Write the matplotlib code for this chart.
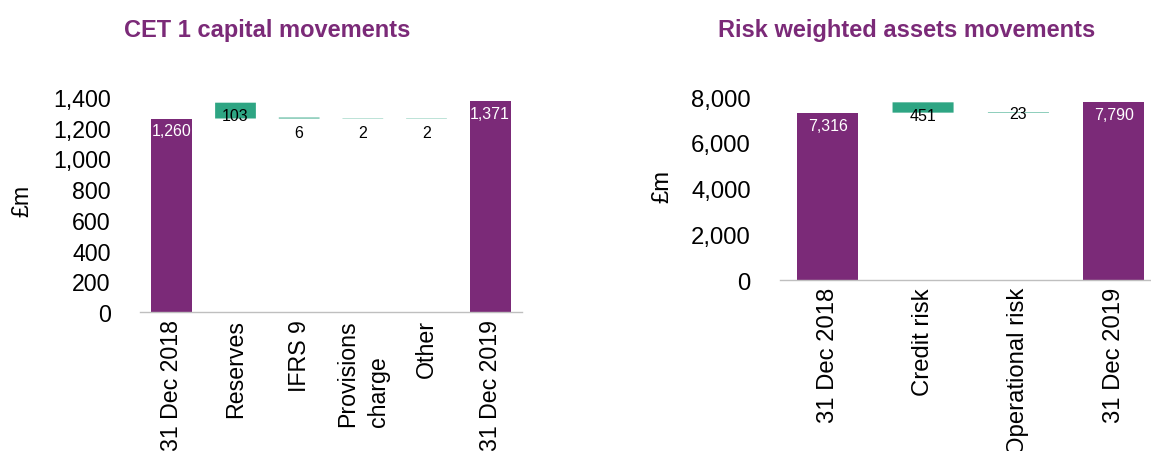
import matplotlib
matplotlib.use("Agg")
import matplotlib.pyplot as plt

# ---- data ----
cet_categories = ["31 Dec 2018", "Reserves", "IFRS 9", "Provisions\ncharge", "Other", "31 Dec 2019"]
cet_values = [1260, 103, 6, 2, 2, 1371]
cet_is_total = [True, False, False, False, False, True]
cet_yticks = [0, 200, 400, 600, 800, 1000, 1200, 1400]

rwa_categories = ["31 Dec 2018", "Credit risk", "Operational risk", "31 Dec 2019"]
rwa_values = [7316, 451, 23, 7790]
rwa_is_total = [True, False, False, True]
rwa_yticks = [0, 2000, 4000, 6000, 8000]

PURPLE = "#7b2a78"
TEAL = "#2ea583"
TITLE = "#7b2a78"
FONT = "Liberation Sans"

plt.rcParams["font.family"] = [FONT, "DejaVu Sans"]

W, H = 1151, 452
fig = plt.figure(figsize=(W / 100, H / 100), dpi=100)


def waterfall(ax, cats, vals, totals, yticks, ymax, xmax, label_offsets, cat_pad, fs):
    x = list(range(len(cats)))
    opening = vals[0]
    for i, (v, t) in enumerate(zip(vals, totals)):
        if t:
            ax.bar(i, v, width=0.64, color=PURPLE, linewidth=0)
            ax.annotate(f"{v:,}", (i, v), xytext=(0, -9), textcoords="offset points",
                        ha="center", va="center", color="white", fontsize=11.5)
        else:
            bars = ax.bar(i, v, bottom=opening, width=0.64, color=TEAL, linewidth=0)
            for b in bars:
                b.set_snap(False)
            ax.annotate(f"{v:,}", (i, opening + v / 2), xytext=(0, -label_offsets[i]),
                        textcoords="offset points", ha="center", va="center",
                        color="black", fontsize=11.5)
    ax.set_xlim(-0.5, xmax)
    ax.set_ylim(0, ymax)
    ax.set_yticks(yticks)
    ax.set_yticklabels([f"{t:,}" for t in yticks])
    ax.set_xticks(x)
    ax.set_xticklabels(cats, rotation=90, va="top", ha="center", multialignment="left",
                       linespacing=1.45)
    ax.tick_params(axis="y", length=0, pad=21, labelsize=fs, colors="black")
    ax.tick_params(axis="x", length=0, pad=cat_pad, labelsize=fs, colors="black")
    for s in ["top", "right", "left"]:
        ax.spines[s].set_visible(False)
    ax.spines["bottom"].set_color("#bfbfbf")
    ax.spines["bottom"].set_linewidth(1)


ax1 = fig.add_axes([140 / W, 1 - 313 / H, 382 / W, (313 - 98) / H])
waterfall(ax1, cet_categories, cet_values, cet_is_total, cet_yticks, 1400, 5.5,
          [0, 3.5, 10.5, 10, 10, 0], 5, 16.7)

ax2 = fig.add_axes([780 / W, 1 - 281 / H, 371 / W, (281 - 98) / H])
waterfall(ax2, rwa_categories, rwa_values, rwa_is_total, rwa_yticks, 8000, 3.39,
          [0, 6, 0.5, 0], 5, 17.2)

fig.text(267 / W, 1 - 31 / H, "CET 1 capital movements", ha="center", va="center",
         fontsize=17, fontweight="bold", color=TITLE)
fig.text(907 / W, 1 - 31 / H, "Risk weighted assets movements", ha="center", va="center",
         fontsize=17, fontweight="bold", color=TITLE)
fig.text(22 / W, 1 - 201 / H, "£m", rotation=90, ha="center", va="center", fontsize=16.7)
fig.text(662 / W, 1 - 186 / H, "£m", rotation=90, ha="center", va="center", fontsize=17.2)

fig.savefig("out.png", dpi=100)
